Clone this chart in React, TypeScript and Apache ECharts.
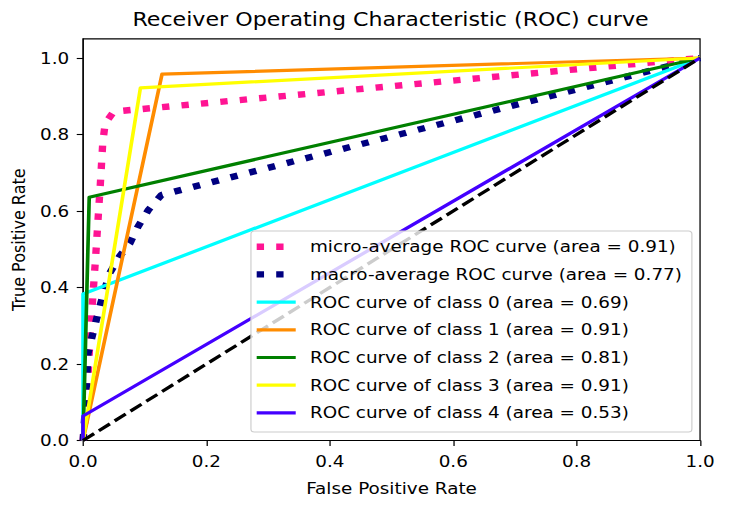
import React, { useEffect, useRef } from "react";
import * as echarts from "echarts";

// ROC curve points as [false positive rate, true positive rate]
const microAverage: number[][] = [
  [0, 0], [0.006, 0.1], [0.012, 0.29], [0.02, 0.47], [0.024, 0.57], [0.028, 0.67],
  [0.032, 0.78], [0.036, 0.83], [0.05, 0.86], [1, 1],
];
const macroAverage: number[][] = [
  [0, 0], [0.004, 0.09], [0.008, 0.228], [0.016, 0.28], [0.027, 0.35], [0.043, 0.437],
  [0.059, 0.481], [0.076, 0.516], [0.089, 0.559], [0.106, 0.603], [0.127, 0.642], [1, 1],
];
const class0: number[][] = [[0, 0], [0, 0.383], [1, 1]];
const class1: number[][] = [[0, 0], [0.128, 0.958], [1, 1]];
const class2: number[][] = [[0, 0], [0.01, 0.636], [1, 1]];
const class3: number[][] = [[0, 0], [0.093, 0.922], [1, 1]];
const class4: number[][] = [[0, 0], [0, 0.064], [1, 1]];
const chance: number[][] = [[0, 0], [1, 1]];

const curveNames = [
  "micro-average ROC curve (area = 0.91)",
  "macro-average ROC curve (area = 0.77)",
  "ROC curve of class 0 (area = 0.69)",
  "ROC curve of class 1 (area = 0.91)",
  "ROC curve of class 2 (area = 0.81)",
  "ROC curve of class 3 (area = 0.91)",
  "ROC curve of class 4 (area = 0.53)",
];
const curveData = [microAverage, macroAverage, class0, class1, class2, class3, class4];
const curveColors = ["#ff1493", "#000080", "#00ffff", "#ff8c00", "#008000", "#ffff00", "#4400ff"];
const curveDotted = [true, true, false, false, false, false, false];

const tickValues = [0, 0.2, 0.4, 0.6, 0.8, 1.0];

const FONT = "DejaVu Sans";

// the figure is drawn at a narrower width and widened horizontally
const PAGE_W = 737;
const PAGE_H = 508;
const STRETCH = 1.148;
const CHART_W = PAGE_W / STRETCH;

export default function App() {
  const ref = useRef<HTMLDivElement>(null);

  useEffect(() => {
    document.body.style.margin = "0";
    if (!ref.current) return;
    const chart = echarts.init(ref.current, undefined, { renderer: "svg" });

    const gridLeft = 70.6;
    const gridTop = 38.9;
    const gridWidth = 539.2;
    const gridHeight = 401.6;

    const dottedWidth = 6.4;
    const solidWidth = 3.2;
    const dotted = [6.4, 10.6];

    const series: any[] = curveData.map((data, i) => ({
      type: "line",
      name: curveNames[i],
      data,
      symbol: "none",
      showSymbol: false,
      lineStyle: {
        color: curveColors[i],
        width: curveDotted[i] ? dottedWidth : solidWidth,
        type: curveDotted[i] ? dotted : "solid",
        join: "round",
        cap: "butt",
      },
      emphasis: { disabled: true },
    }));
    series.push({
      type: "line",
      name: "chance",
      data: chance,
      symbol: "none",
      showSymbol: false,
      lineStyle: { color: "#000", width: solidWidth, type: [11.8, 5.1] },
      emphasis: { disabled: true },
    });

    // legend box drawn from the same names / colours
    const legendX = 218.6;
    const legendY = 231;
    const rowY0 = 246.7;
    const rowGap = 27.7;
    const legendElems: any[] = [
      {
        type: "rect",
        z: 100,
        shape: { x: legendX, y: legendY, width: 384.1, height: 201, r: 3 },
        style: { fill: "rgba(255,255,255,0.8)", stroke: "#cccccc", lineWidth: 1 },
      },
    ];
    curveNames.forEach((name, i) => {
      const y = rowY0 + i * rowGap;
      legendElems.push({
        type: "line",
        z: 101,
        shape: { x1: 223.6, y1: y, x2: 257.6, y2: y },
        style: {
          stroke: curveColors[i],
          lineWidth: curveDotted[i] ? dottedWidth : solidWidth,
          lineDash: curveDotted[i] ? dotted : null,
          lineCap: "butt",
        },
      });
      legendElems.push({
        type: "text",
        z: 101,
        x: 270,
        y,
        style: {
          text: name,
          fill: "#000",
          font: `16px '${FONT}'`,
          verticalAlign: "middle",
          align: "left",
        },
      });
    });

    chart.setOption({
      animation: false,
      textStyle: { fontFamily: FONT },
      grid: {
        left: gridLeft,
        top: gridTop,
        width: gridWidth,
        height: gridHeight,
        show: true,
        borderColor: "#000",
        borderWidth: 1.1,
        backgroundColor: "transparent",
      },
      xAxis: {
        type: "value",
        min: 0,
        max: 1,
        interval: 0.2,
        name: "False Positive Rate",
        nameLocation: "middle",
        nameGap: 40,
        nameTextStyle: { fontSize: 16, color: "#000", fontFamily: FONT },
        axisLine: { show: true, lineStyle: { color: "#000", width: 1.1 } },
        axisTick: { show: true, length: 5.5, lineStyle: { color: "#000", width: 1.1 } },
        axisLabel: {
          fontSize: 16,
          color: "#000",
          margin: 13,
          fontFamily: FONT,
          formatter: (v: number) => v.toFixed(1),
        },
        splitLine: { show: false },
      },
      yAxis: {
        type: "value",
        min: 0,
        max: 1.05,
        name: "True Positive Rate",
        nameLocation: "middle",
        nameGap: 45,
        nameRotate: 90,
        nameTextStyle: { fontSize: 16, color: "#000", fontFamily: FONT },
        axisLine: { show: true, lineStyle: { color: "#000", width: 1.1 } },
        axisTick: {
          show: true,
          length: 5.5,
          customValues: tickValues,
          lineStyle: { color: "#000", width: 1.1 },
        },
        axisLabel: {
          fontSize: 16,
          color: "#000",
          margin: 12,
          fontFamily: FONT,
          customValues: tickValues,
          formatter: (v: number) => v.toFixed(1),
        },
        splitLine: { show: false },
      },
      graphic: [
        {
          type: "text",
          x: gridLeft + gridWidth / 2,
          y: 19,
          z: 100,
          style: {
            text: "Receiver Operating Characteristic (ROC) curve",
            fill: "#000",
            font: `19.3px '${FONT}'`,
            align: "center",
            verticalAlign: "middle",
          },
        },
        ...legendElems,
      ],
      series,
    });

    return () => chart.dispose();
  }, []);

  return (
    <div style={{ width: PAGE_W, height: PAGE_H, overflow: "hidden" }}>
      <div
        ref={ref}
        style={{
          width: CHART_W,
          height: PAGE_H,
          transform: `scaleX(${STRETCH})`,
          transformOrigin: "0 0",
        }}
      />
    </div>
  );
}
